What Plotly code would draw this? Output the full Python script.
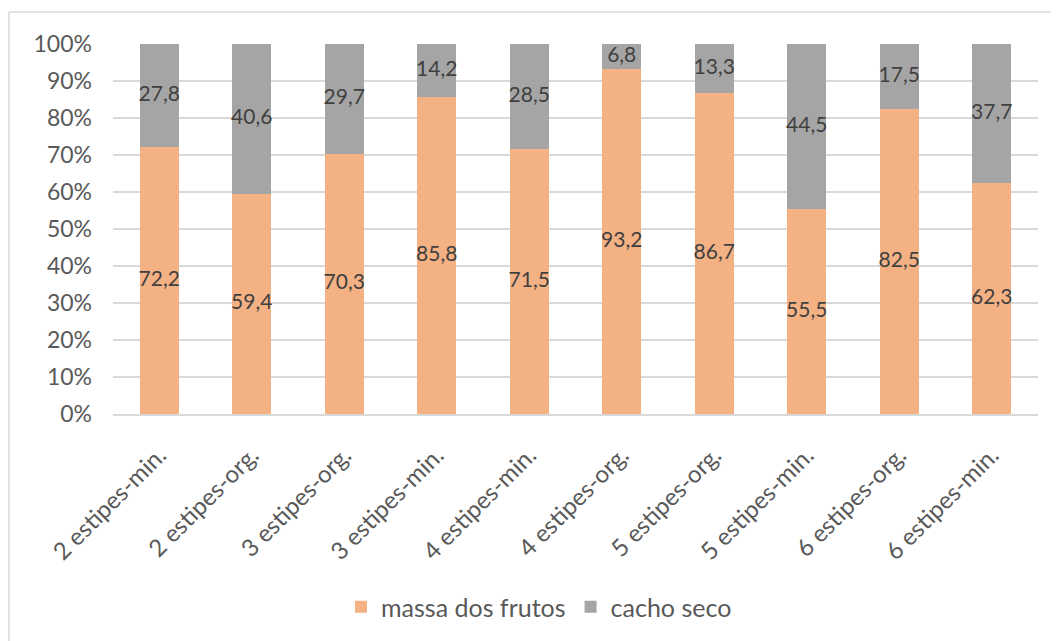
import plotly.graph_objects as go

categories = ["2 estipes-min.", "2 estipes-org.", "3 estipes-org.", "3 estipes-min.",
              "4 estipes-min.", "4 estipes-org.", "5 estipes-org.", "5 estipes-min.",
              "6 estipes-org.", "6 estipes-min."]
massa_frutos = [72.2, 59.4, 70.3, 85.8, 71.5, 93.2, 86.7, 55.5, 82.5, 62.3]
cacho_seco = [27.8, 40.6, 29.7, 14.2, 28.5, 6.8, 13.3, 44.5, 17.5, 37.7]
y_ticks = [0, 10, 20, 30, 40, 50, 60, 70, 80, 90, 100]

OFF = 8  # page body margin
W, H = 1059 - OFF, 641 - OFF
L, R, T, B = 113 - OFF, 1038 - OFF, 44 - OFF, 414 - OFF

def fmt(v):
    return f"{v:.1f}".replace(".", ",")

font_family = "Lato, 'Open Sans', sans-serif"

fig = go.Figure()
fig.add_trace(go.Bar(x=categories, y=massa_frutos, name="massa dos frutos",
                     marker=dict(color="#F4B183", line=dict(width=0))))
fig.add_trace(go.Bar(x=categories, y=cacho_seco, name="cacho seco",
                     marker=dict(color="#A5A5A5", line=dict(width=0))))

# data labels at segment centres
fig.add_trace(go.Scatter(x=categories, y=[m / 2 for m in massa_frutos],
                         text=[fmt(v) for v in massa_frutos], mode="text",
                         textfont=dict(size=21, color="#404040", family=font_family),
                         showlegend=False, hoverinfo="skip", cliponaxis=False))
fig.add_trace(go.Scatter(x=categories, y=[m + c / 2 for m, c in zip(massa_frutos, cacho_seco)],
                         text=[fmt(v) for v in cacho_seco], mode="text",
                         textfont=dict(size=21, color="#404040", family=font_family),
                         showlegend=False, hoverinfo="skip", cliponaxis=False))

pw = R - L
ph = B - T
def px_x(x):
    return (x - OFF - L) / pw
def px_y(y):
    return (B - (y - OFF)) / ph

fig.update_layout(
    width=W, height=H,
    barmode="stack", bargap=0.58,
    margin=dict(l=L, r=W - R, t=T, b=H - B, autoexpand=False),
    plot_bgcolor="white", paper_bgcolor="white",
    font=dict(family=font_family, size=23, color="#595959"),
    xaxis=dict(tickangle=-45, showgrid=False, showline=True, linecolor="#D9D9D9",
               linewidth=1.5, ticks="", ticklabelstandoff=16,
               tickfont=dict(size=24, color="#595959")),
    yaxis=dict(range=[0, 100], tickvals=y_ticks, ticktext=[f"{v}%" for v in y_ticks],
               showgrid=True, gridcolor="#D9D9D9", gridwidth=1.5, zeroline=False,
               showline=False, ticks="", ticklen=0, ticklabelstandoff=20,
               tickfont=dict(size=23, color="#595959")),
    legend=dict(orientation="h", x=px_x(539), xanchor="center", y=px_y(607), yanchor="middle",
                font=dict(size=25, color="#595959"), itemwidth=30,
                traceorder="normal"),
    shapes=[
        dict(type="line", xref="paper", yref="paper", x0=px_x(9), x1=px_x(1080),
             y0=px_y(12), y1=px_y(12), line=dict(color="#D9D9D9", width=1.5)),
        dict(type="line", xref="paper", yref="paper", x0=px_x(9), x1=px_x(9),
             y0=px_y(12), y1=px_y(680), line=dict(color="#D9D9D9", width=1.5)),
    ],
)

fig.write_html("out.html")
